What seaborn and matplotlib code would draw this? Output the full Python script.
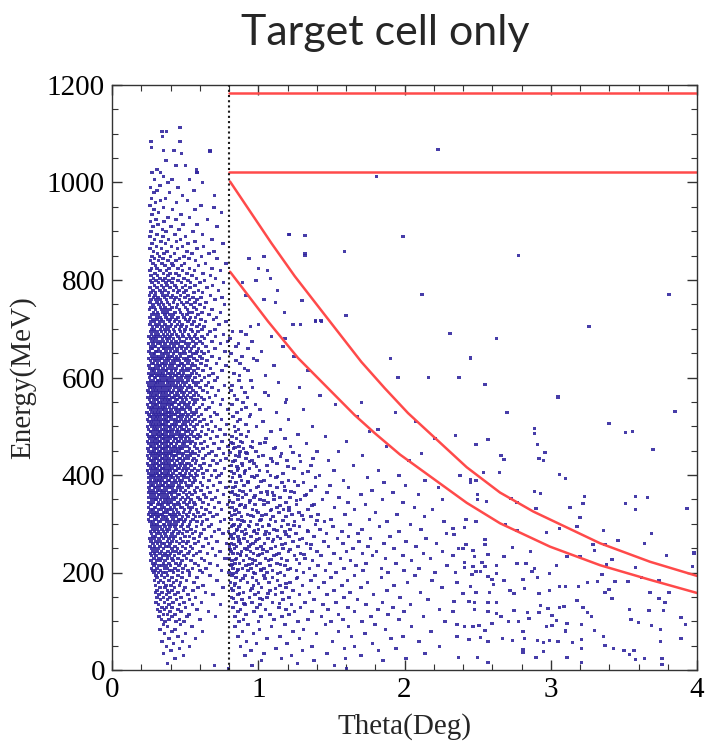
import matplotlib
matplotlib.use("Agg")
import matplotlib.pyplot as plt
from matplotlib.path import Path
from matplotlib.ticker import MultipleLocator
import pandas as pd
import seaborn as sns

# scatter, one row per energy (MeV): theta values in 1/1000 deg
rows_high = """
1112: 466
1104: 341 373
1094: 344
1085: 268 465
1072: 271
1066: 352 424 671
1060: 474
1046: 371
1035: 438 502
1026: 309 577
1021: 274 331 583
1013: 352
1006: 291 412 531
999: 383 619
994: 328
989: 262 452
984: 306 561
979: 287 394
974: 483 702
968: 271 366
963: 331 517
958: 298 441
953: 259 608
949: 352 697
944: 289 413 566
939: 318 748
934: 273 472
929: 384 529
924: 301 437 652
919: 263 354
914: 313 487 581
909: 282 403 719
904: 344 458
899: 268 371 552
894: 307 429 618 1213
889: 259 348 503
884: 291 386 469 683
879: 334 442 566
874: 272 367 521 758
869: 303 408 481 627
864: 261 339 447 583
859: 284 376 512 697
854: 311 357 428 548 663 1318
849: 273 326 401 493 612 1041
844: 292 349 461 527 719 937
839: 264 318 382 437 571
834: 281 343 409 496 638 779
829: 299 362 418 474 593
824: 271 308 391 452 531 684 1002
819: 258 327 374 481 563 741 1063
814: 293 352 397 436 514 622
809: 268 312 383 459 547 672
804: 284 329 361 418 493 578 708 1084
799: 262 301 347 388 452 521 634 983
794: 273 318 369 412 474 537 601 763 891
789: 291 339 376 429 503 568 687
784: 259 306 353 397 441 482 534 651
779: 281 327 364 419 458 507 592 728 1131
774: 268 297 342 386 449 493 561 619
769: 257 293 348 377 413 469 521 672 918
764: 283 316 359 402 437 498 553 608 752
759: 266 301 329 373 428 462 529 583 703 1038
754: 261 309 338 381 421 476 514 567 642 1117
749: 279 322 351 393 447 488 541 603 768
744: 268 288 331 362 409 441 502 559 631
739: 257 298 343 369 398 463 517 578 684
734: 284 312 347 377 431 468 527 549 617 741 1178
729: 271 293 318 361 392 418 483 512 588 663
724: 259 303 329 368 412 453 491 537 572 714
719: 281 308 338 379 401 437 503 531 609 693
714: 266 291 327 352 394 428 461 518 559 638 781 1392 1431
709: 258 297 321 363 406 449 479 547 598 731 1003 1236 1288
704: 277 306 341 373 397 433 472 509 583 629 948
"""

rows_peak = """
699: 269 289 331 358 384 421 463 498 541 617 703
694: 262 284 309 338 367 392 427 468 497 551 588 671 824 883
689: 271 297 318 353 379 411 442 481 523 571 652 763 917
684: 253 289 306 331 362 398 451 487 529 563 614 708 1092
679: 263 281 302 344 372 389 419 463 508 539 582 633 807 1183
674: 272 293 321 349 381 407 438 472 491 553 601 682 791 958
669: 251 279 314 333 364 403 431 454 502 528 574 619 741 866
664: 262 288 299 341 368 393 423 461 482 519 561 643 847 1168
659: 268 276 318 352 357 384 412 443 476 507 543 591 703 931
654: 254 301 307 332 371 401 429 449 493 534 583 612 659 772 1021
649: 263 284 292 343 361 387 421 462 478 503 553 574 628 812
644: 273 302 323 347 379 396 413 442 469 522 541 603 683 889 1243
639: 251 281 309 331 342 373 391 432 451 492 511 562 617 734 966 1904
634: 264 291 303 324 358 384 418 439 463 504 528 582 651 848 991
629: 272 283 312 341 353 372 404 428 471 483 519 551 609 713 874
624: 253 298 321 329 361 393 414 453 462 494 543 568 641 781 1108
619: 261 279 292 313 349 381 399 421 441 482 509 533 587 672 906
614: 274 287 319 338 362 374 408 434 472 497 521 559 623 752 929 1339
609: 252 281 301 328 347 383 392 418 453 461 489 548 578 691 836
604: 266 274 308 323 342 361 401 428 441 477 512 538 597 662 873 1049
599: 255 292 299 331 353 372 394 412 448 472 501 527 568 633 721 1957 2163 2371
594: 263 284 312 322 341 368 383 407 431 459 483 521 549 612 703 867 951
589: 243 268 293 309 329 351 379 397 422 453 487 508 561 587 659 1138
584: 254 279 298 318 337 362 388 411 438 468 497 529 576 643 768 822
579: 261 272 291 309 331 349 372 398 427 451 479 518 542 601 683 884 962 1282
574: 245 281 302 319 338 359 378 393 419 457 472 508 553 621 729 812
569: 253 268 289 311 328 347 371 401 414 443 478 497 532 573 652 909 1047
564: 262 277 298 307 339 358 381 394 431 452 488 516 561 591 708 838 1071 1421
559: 247 273 291 318 331 352 369 409 423 462 471 503 539 612 668 927
554: 256 283 301 312 342 361 383 398 437 449 481 509 552 581 628 757 854 1193
549: 264 269 292 319 329 348 373 388 418 432 468 492 531 566 687 896 1187 1706
544: 244 281 298 308 338 362 379 403 411 454 461 497 521 558 619 741 821 981 1528
539: 252 273 287 311 329 349 361 392 419 441 479 511 538 598 662 917
534: 263 279 303 321 344 353 374 402 434 453 469 492 533 579 641 792 887 1012 1309
529: 241 274 294 313 332 361 383 391 412 442 458 501 547 573 701 853 1124 1938
524: 253 284 302 323 341 352 371 399 421 433 471 488 521 562 613 718 948
519: 261 271 293 309 327 359 382 389 408 451 462 483 512 543 592 673 826 941 1679
514: 243 282 301 318 339 354 368 401 419 438 471 502 529 568 628 749 877 1208
509: 252 271 289 313 331 361 379 387 429 448 463 491 521 551 602 681 859 1031 2074
504: 264 279 302 322 343 348 371 409 423 441 483 498 538 583 649 782 918
499: 242 272 291 307 333 359 381 392 401 432 462 474 509 562 618 709 837 987 1372
494: 251 283 298 312 339 352 369 401 419 449 477 491 528 571 659 738 864 1152 1817
489: 263 268 293 319 327 361 378 389 412 441 459 502 519 551 613 688 843 932 1089 1762
484: 244 281 303 314 341 348 372 403 428 452 468 493 539 589 641 771 883 1271
479: 253 272 287 322 331 359 383 391 413 421 461 482 513 562 603 718 819 921 1461
474: 261 283 298 309 342 353 368 398 431 439 472 503 529 581 672 851 1052 1183 2208
469: 242 273 294 323 329 362 381 387 419 452 458 491 518 547 631 752 878 962 1603
464: 254 281 301 311 338 351 373 402 408 442 481 497 538 571 609 698 827 1013 1329
459: 263 269 292 318 332 364 379 391 421 433 462 487 512 563 653 793 868 948 1221 1878
454: 245 284 299 309 341 348 371 403 429 451 468 478 531 582 621 731 831 899 1109
449: 251 274 288 321 333 359 382 408 418 439 459 502 523 549 598 683 876 983 1401 1548
444: 262 281 302 313 339 351 368 391 402 448 471 489 541 569 662 763 871 922 1159 2117
439: 244 269 293 319 329 361 377 412 428 437 482 508 532 593 638 712 843 1031 1283 1712
434: 253 283 297 308 342 349 372 388 419 459 469 497 521 561 621 779 917 1088 1374
429: 262 271 289 323 331 363 379 401 413 441 448 487 551 578 692 741 842 956 1197 1479 2031
424: 243 281 302 312 337 352 368 391 428 462 479 509 528 571 629 718 888 971 1129
419: 251 274 291 318 329 358 383 399 423 438 468 499 541 602 671 817 891 1061 1362 1651
414: 262 282 299 307 341 349 371 393 409 451 462 492 519 563 612 769 862 941 1243
409: 244 269 293 321 333 359 379 397 431 439 482 508 547 589 648 703 859 913 1009 1518 1823
404: 253 281 302 312 339 348 372 387 418 463 468 501 529 572 623 748 834 907 1171 1301
"""

rows_low = """
399: 262 273 288 319 329 362 377 403 408 441 478 492 541 583 679 731 871 991 1083 1418 1962
394: 254 281 302 328 349 371 399 418 452 491 518 559 627 713 823 974 1121 1392 1748
389: 263 292 309 322 341 383 392 429 461 479 531 568 662 884 1038 1207 1583 2141
384: 251 272 301 331 358 369 412 438 472 503 552 604 738 849 931 1162 1308 1861
379: 268 279 313 342 348 381 398 421 459 511 542 619 693 903 1081 1271 1492 2008
374: 252 291 299 321 362 388 409 452 478 523 581 652 781 829 987 1129 1618 2232
369: 261 283 311 329 347 372 418 441 469 502 563 608 722 871 948 1183 1361 1778
364: 249 273 302 338 359 391 403 429 488 531 571 669 812 1019 1098 1247 1469 1923
359: 263 288 318 327 352 377 408 451 462 509 548 629 761 842 918 1062 1331 1702 2097
354: 252 281 309 342 368 386 417 439 483 521 588 641 709 893 971 1149 1218 1552
349: 271 293 301 331 361 379 402 428 469 502 539 603 683 861 1012 1108 1289 1439 1849 2259
344: 253 279 318 349 368 391 408 452 491 529 559 621 733 828 941 1068 1191 1612 1991
339: 262 271 311 328 343 382 419 438 461 512 567 659 791 883 978 1038 1263 1381 1733
334: 249 291 298 341 358 399 427 468 479 523 548 612 702 819 908 1129 1211 1521 2068
329: 268 282 319 334 369 388 411 442 497 538 579 641 749 851 962 1091 1172 1342 1658 2192
324: 258 289 308 351 362 381 419 451 489 531 589 671 802 869 998 1143 1278 1803
319: 251 281 302 329 341 392 403 431 462 508 558 629 718 841 928 1052 1231 1409 1592 1948
314: 263 272 309 318 348 369 412 439 481 519 571 602 689 887 969 1101 1188 1362 2138
309: 249 291 303 338 361 379 418 459 472 501 553 648 768 812 861 1019 1083 1309 1498 1762
304: 258 279 318 331 372 398 428 451 492 538 581 619 741 903 947 1118 1249 1452 1879 2271
299: 271 288 309 352 358 391 411 439 481 529 612 681 834 879 991 1071 1202 1391 1628 2041
294: 272 301 328 361 398 432 471 518 579 662 817 868 941 1029 1158 1283 1512 1828
289: 281 309 342 373 391 438 489 541 628 731 853 912 1003 1109 1218 1421 1709 2112
284: 263 291 318 352 381 419 462 512 571 702 798 889 972 1052 1182 1339 1572 1963
279: 271 308 331 362 409 452 483 549 609 758 839 921 991 1078 1259 1468 1681 2287
274: 282 298 339 369 402 431 498 531 598 681 812 861 949 1131 1212 1381 1618 1902
269: 259 289 321 351 388 421 469 561 642 829 901 1009 1068 1151 1302 1541 1769 2148
264: 268 302 329 378 409 441 487 521 591 719 869 928 982 1097 1238 1451 1688 2011
259: 279 311 341 359 398 462 509 568 661 782 818 879 963 1042 1187 1329 1578 1859 2218
254: 261 292 328 369 391 429 481 538 621 802 851 938 1019 1118 1271 1479 1751 2079
249: 272 298 319 351 409 448 502 549 688 838 909 991 1088 1169 1358 1649 1928
244: 281 308 339 382 418 441 472 531 601 739 813 887 948 1061 1208 1401 1602 1808 2259
239: 262 291 329 361 401 459 518 579 652 829 859 968 1029 1141 1289 1518 1712 2129
234: 271 302 349 372 391 428 491 558 709 878 921 998 1109 1248 1428 1781 1991
229: 289 318 339 381 412 451 509 612 771 801 852 941 1049 1158 1319 1561 1869 2178
224: 268 309 331 361 418 478 541 632 819 898 979 1071 1198 1372 1631 2048
219: 279 298 352 391 438 469 568 671 841 872 962 1012 1128 1281 1489 1738 1941
214: 288 321 342 369 401 458 502 591 721 812 918 988 1079 1183 1408 1669 2289
209: 271 308 358 379 429 487 549 641 829 891 951 1041 1219 1351 1588 1842 2098
204: 281 299 331 392 411 452 519 602 748 859 931 1018 1098 1262 1461 1718 1998
199: 289 318 349 371 419 481 531 619 799 851 968 1059 1151 1309 1531 1889 2209
194: 301 339 381 452 529 671 822 909 1041 1178 1389 1658 2071
189: 309 358 412 478 583 848 961 1098 1269 1498 1842
184: 292 331 389 441 509 718 879 988 1131 1359 1611 2189
179: 319 352 421 469 561 809 928 1072 1218 1451 1748 2019
174: 298 368 402 461 621 838 969 1149 1302 1571 1929
169: 329 361 428 498 589 759 869 1021 1188 1412 1702 2258
164: 309 381 409 488 552 829 948 1079 1238 1519 1881
159: 298 341 391 451 638 898 1002 1161 1349 1628 2109
154: 321 372 429 518 689 861 979 1118 1281 1471 1789
149: 309 352 398 472 571 818 941 1061 1209 1588 1968
144: 331 381 441 531 889 1029 1171 1381 1679 2161
139: 302 359 418 491 612 848 958 1098 1318 1531 1849
134: 319 391 461 549 741 909 1012 1228 1441 1738 2041
129: 341 372 409 502 829 991 1141 1289 1612 1921
124: 311 359 452 581 878 1049 1188 1478 1818 2239
119: 329 398 471 659 861 971 1249 1369 1659 1998
114: 352 381 429 528 918 1081 1209 1548 1889
109: 321 409 512 708 842 1019 1162 1431 1772 2129
104: 339 391 462 601 898 1108 1341 1581 1961
99: 361 438 492 869 1002 1271 1498 1709 2278
94: 352 468 929 1182 1461 1798
89: 381 548 841 1091 1618 2049
84: 329 432 1009 1309 1871
79: 409 619 891 1238 1548 2181
74: 358 502 969 1398 1729
69: 451 861 1149 1638 1989
64: 391 572 1059 1281 1909
59: 342 481 921 1508 2098
54: 419 988 1198 1781
49: 372 531 879 1369 1659 2238
44: 461 1121 1591 1941
39: 402 951 1302 1821
34: 351 1041 1469 2139
29: 489 909 1228 1701
24: 431 1159 1598 2009
19: 1021 1381 1852
14: 381 1268
9: 702 958 1521
4: 798 1602
"""

# extra points just right of the 0.8 deg line, where the cloud spills over
rows_mid = """
467: 812 893 1047
457: 841 962 1118
447: 806 918 1236
437: 867 1003 1152
427: 829 941 1097 1288
417: 853 989 1204
407: 818 907 1063 1341
397: 874 958 1132
387: 809 931 1019 1247
377: 846 1002 1178 1392
367: 823 897 1061 1223
357: 861 979 1109 1318
347: 804 942 1038 1263
337: 872 913 1147 1369
327: 837 988 1083 1211
317: 816 951 1027 1298
307: 889 1012 1168 1402
297: 828 934 1072 1246
287: 851 973 1129 1337
277: 812 907 1048 1191
267: 869 991 1103 1282
257: 833 946 1161 1359
247: 807 922 1031 1218
237: 878 1009 1124 1311
227: 843 961 1087 1263
217: 819 938 1152
207: 862 1018 1203
197: 828 979 1131
187: 896 1047 1262
177: 841 1003 1189
167: 817 958 1117
157: 873 1068
147: 832 1012
137: 901 1146
"""

# sparse points beyond 2.3 deg and the isolated high-energy ones: (theta deg, energy MeV)
far_points = [
    (2.35, 481), (2.49, 462), (2.57, 473), (2.89, 496), (2.89, 485), (2.91, 462), (2.96, 446),
    (2.92, 433), (2.95, 429), (2.66, 441), (2.68, 431), (2.54, 405), (2.65, 406), (3.06, 401),
    (3.10, 393), (3.51, 488), (3.56, 490), (3.70, 453), (2.38, 398), (2.45, 391), (2.49, 388),
    (2.45, 384), (2.50, 359), (2.50, 349), (2.56, 345), (2.73, 352), (2.77, 343), (2.89, 366),
    (2.93, 362), (2.90, 331), (3.23, 356), (3.22, 342), (3.13, 334), (3.20, 312), (3.58, 356),
    (3.66, 354), (3.51, 342), (3.58, 329), (3.93, 332), (2.42, 308), (2.41, 292), (2.49, 304),
    (2.69, 299), (2.77, 287), (2.97, 282), (3.06, 290), (3.18, 294), (3.36, 287), (3.69, 280),
    (3.46, 265), (3.64, 259), (2.33, 291), (2.34, 277), (3.29, 258), (3.37, 258), (2.74, 251),
    (2.55, 268), (2.55, 258), (2.42, 257), (2.37, 249), (2.40, 249), (2.33, 234), (2.47, 245),
    (2.48, 232), (2.57, 237), (2.68, 232), (2.86, 243), (2.83, 219), (2.77, 219), (2.89, 208),
    (3.04, 215), (3.11, 232), (3.20, 232), (3.30, 245), (3.42, 227), (3.38, 217), (3.58, 211),
    (3.79, 234), (3.98, 240), (3.97, 213), (2.35, 200), (2.41, 220), (2.41, 210), (2.47, 212),
    (2.53, 220), (2.55, 212), (2.49, 203), (2.52, 202), (2.63, 214), (2.63, 198), (2.46, 195),
    (2.57, 191), (2.60, 185), (2.68, 183), (2.81, 186), (2.87, 202), (2.91, 189), (2.99, 197),
    (3.06, 172), (3.10, 172), (3.19, 171), (3.25, 180), (3.32, 182), (3.35, 195), (3.44, 182),
    (3.37, 159), (3.40, 166), (3.53, 182), (3.62, 190), (3.68, 159), (3.74, 184), (3.81, 158),
    (2.36, 180), (2.45, 171), (2.49, 159), (2.58, 158), (2.61, 176), (2.72, 163), (2.75, 157),
    (2.82, 167), (2.92, 157), (2.99, 163), (2.34, 140), (2.40, 156), (2.44, 140), (2.48, 138),
    (2.57, 139), (2.63, 139), (2.33, 119), (2.48, 125), (2.57, 120), (2.63, 115), (2.66, 109),
    (2.71, 100), (2.75, 123), (2.84, 118), (2.85, 105), (2.93, 132), (2.92, 118), (2.98, 126),
    (3.01, 111), (3.04, 102), (3.06, 128), (3.09, 131), (3.18, 143), (3.22, 128), (3.25, 118),
    (3.28, 109), (3.42, 146), (3.54, 124), (3.55, 104), (3.60, 98), (3.67, 122), (3.74, 146),
    (3.78, 138), (3.77, 123), (3.89, 108), (3.92, 94), (2.36, 94), (2.41, 89), (2.47, 90),
    (2.51, 91), (2.60, 96), (2.78, 99), (2.97, 89), (3.01, 91), (3.11, 96), (3.10, 80),
    (3.21, 94), (3.30, 81), (3.36, 68), (3.57, 41), (3.69, 91), (3.75, 83), (3.75, 59),
    (3.89, 65), (2.36, 68), (2.44, 63), (2.52, 67), (2.55, 82), (2.57, 58), (2.67, 64),
    (2.74, 61), (2.81, 78), (2.82, 65), (2.91, 61), (2.95, 56), (2.99, 61), (3.05, 59),
    (3.15, 56), (3.21, 63), (3.21, 44), (3.37, 51), (3.43, 44), (3.54, 31), (3.58, 22),
    (3.64, 23), (3.76, 24), (3.76, 12), (2.37, 26), (2.50, 26), (2.57, 16), (2.81, 43),
    (2.81, 35), (2.90, 26), (2.95, 37), (3.11, 26), (3.21, 16), (3.50, 39),
    (2.23, 1067), (1.81, 1013), (1.99, 889), (1.21, 894), (1.32, 891), (1.59, 858),
    (1.32, 851), (2.78, 851), (2.12, 771), (3.81, 771), (2.31, 691), (1.30, 757),
    (1.60, 727), (1.39, 717), (1.43, 717), (3.26, 704), (2.63, 680), (3.05, 560),
    (2.55, 585), (3.85, 530), (2.70, 528), (3.40, 505), (2.45, 640), (0.67, 1063),
    (0.58, 1020),
]

# red cut lines and the dotted 0.8 deg boundary
cut_theta = 0.8
flat_energy = [1183, 1021]
upper_theta = [0.807, 1.089, 1.249, 1.443, 1.705, 1.865, 2.024, 2.425, 2.653, 2.881, 3.337, 3.679, 4.0]
upper_energy = [1002, 876, 808, 733, 632, 578, 527, 416, 364, 325, 260, 222, 193]
lower_theta = [0.807, 1.067, 1.272, 1.477, 1.659, 1.796, 1.969, 2.425, 2.653, 2.995, 3.337, 3.679, 4.0]
lower_energy = [817, 715, 640, 578, 523, 486, 442, 343, 301, 253, 215, 185, 158]


def read_rows(block):
    pts = []
    for line in block.strip().splitlines():
        e, ts = line.split(":")
        for t in ts.split():
            pts.append((int(t) / 1000, float(e)))
    return pts


points = (read_rows(rows_high) + read_rows(rows_peak) + read_rows(rows_low)
          + read_rows(rows_mid) + far_points)
df = pd.DataFrame(points, columns=["theta", "energy"])

sns.set_style("ticks")
plt.rcParams["font.family"] = ["Liberation Serif", "DejaVu Serif"]

fig = plt.figure(figsize=(7.06, 7.48), dpi=100)
ax = fig.add_axes([112 / 706, 1 - 670 / 748, 585 / 706, 585 / 748])

dash = Path([(-1, -0.85), (1, -0.85), (1, 0.85), (-1, 0.85), (-1, -0.85)], closed=True)
sns.scatterplot(data=df, x="theta", y="energy", ax=ax, marker=dash, s=6.5, alpha=0.9,
                color="#3328a0", edgecolor="none", linewidth=0, legend=False)

red = "#ff4a4a"
for e in flat_energy:
    sns.lineplot(x=[cut_theta, 4.0], y=[e, e], ax=ax, color=red, lw=1.8,
                 estimator=None, sort=False)
sns.lineplot(x=upper_theta, y=upper_energy, ax=ax, color=red, lw=1.8, estimator=None, sort=False)
sns.lineplot(x=lower_theta, y=lower_energy, ax=ax, color=red, lw=1.8, estimator=None, sort=False)
ax.axvline(cut_theta, color="#1a1a1a", lw=1.5, ls=(0, (1, 1.5)), zorder=5)

ax.set_xlim(0, 4)
ax.set_ylim(0, 1200)
ax.xaxis.set_major_locator(MultipleLocator(1))
ax.xaxis.set_minor_locator(MultipleLocator(0.2))
ax.yaxis.set_major_locator(MultipleLocator(200))
ax.yaxis.set_minor_locator(MultipleLocator(50))
ax.tick_params(which="both", direction="in", top=True, right=True, colors="#333333")
ax.tick_params(which="major", length=7, width=1, labelsize=21, labelcolor="black", pad=5)
ax.tick_params(which="minor", length=4, width=0.8)
for sp in ax.spines.values():
    sp.set_color("#333333")
    sp.set_linewidth(1)

ax.set_xlabel("Theta(Deg)", fontsize=21, labelpad=7)
ax.set_ylabel("Energy(MeV)", fontsize=21, labelpad=8)

fig.text(385 / 706, 1 - 33 / 748, "Target cell only", ha="center", va="center",
         fontsize=31, family=["Lato", "DejaVu Sans"])

fig.savefig("out.png", dpi=100)
